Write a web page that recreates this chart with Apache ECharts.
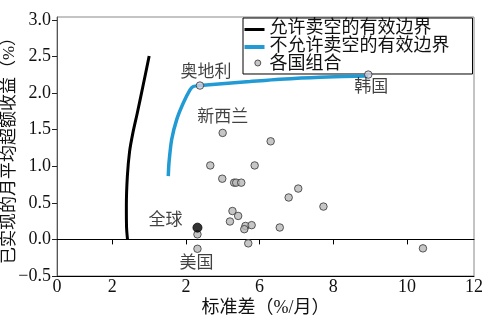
<!DOCTYPE html>
<html>
<head>
<meta charset="utf-8">
<script src="https://cdn.jsdelivr.net/npm/echarts@6/dist/echarts.min.js"></script>
<style>html,body{margin:0;padding:0;background:#fff}#c{width:492px;height:316px}</style>
</head>
<body>
<div id="c"></div>
<script>
// ---- data ----
const shortX = [2.413, 2.388, 2.383, 2.410, 2.470, 2.560, 2.680, 2.830, 3.002];
const shortY = [0.004, 0.170, 0.460, 0.865, 1.200, 1.456, 1.728, 2.086, 2.507];
const noShortX = [3.521, 3.540, 3.613, 3.749, 3.928, 4.110, 4.199, 4.381, 5.738, 6.553, 7.638, 8.95];
const noShortY = [0.865, 1.048, 1.365, 1.637, 1.864, 2.045, 2.090, 2.103, 2.158, 2.190, 2.218, 2.235];
const countryX = [4.381, 8.95, 4.997, 6.30, 4.661, 5.866, 4.986, 5.309, 5.364, 5.502, 7.049, 6.789, 7.733, 5.263, 5.418, 5.195, 5.616, 5.584, 5.784, 6.547, 4.313, 4.313, 5.692, 10.434, 4.313];
const countryY = [2.103, 2.253, 1.456, 1.341, 1.011, 1.011, 0.830, 0.776, 0.776, 0.776, 0.695, 0.573, 0.449, 0.388, 0.321, 0.245, 0.184, 0.140, 0.195, 0.163, 0.069, -0.128, -0.054, -0.122, 0.161];
const countryName = ['奥地利', '韩国', '新西兰', '', '', '', '', '', '', '', '', '', '', '', '', '', '', '', '', '', '', '美国', '', '', '全球'];
const xTickValues = [0.5, 2, 4, 6, 8, 10, 11.82];
const xTickLabels = ['0', '2', '2', '6', '8', '10', '12'];
const yTickValues = [-0.5, 0, 0.5, 1.0, 1.5, 2.0, 2.5, 3.0];
const legendNames = ['允许卖空的有效边界', '不允许卖空的有效边界', '各国组合'];
const axisNames = ['标准差（%/月）', '已实现的月平均超额收益（%）'];

// ---- styles ----
const FONT = "'Liberation Serif', 'Noto Sans CJK SC', serif";
const labelOffsets = {'奥地利': [6, -13], '韩国': [3, 13], '新西兰': [0, -15], '美国': [-1, 15], '全球': [-32, -7]};

const pairs = (xs, ys) => xs.map((x, i) => [x, ys[i]]);

const scatterData = countryX.map((x, i) => {
  const name = countryName[i];
  const item = {value: [x, countryY[i]]};
  if (name === '全球') {
    item.symbolSize = 9;
    item.itemStyle = {color: '#000', borderColor: '#000', borderWidth: 1};
  } else if (name === '奥地利' || name === '韩国') {
    item.itemStyle = {color: '#cfd0de', borderColor: '#333', borderWidth: 1};
  }
  if (name) {
    item.label = {show: true, formatter: name, position: 'inside', offset: labelOffsets[name],
      fontSize: 17, color: '#111', fontFamily: FONT};
  }
  return item;
});

const chart = echarts.init(document.getElementById('c'), null, {renderer: 'canvas'});
chart.setOption({
  animation: false,
  backgroundColor: '#fff',
  grid: {left: 57, right: 18, top: 17, bottom: 40, show: true, borderColor: '#888', borderWidth: 1, outerBoundsMode: 'none', containLabel: false},
  legend: {
    orient: 'vertical', left: 243, top: 18,
    padding: [1, 23, 1, 1], itemGap: 0, itemWidth: 20, itemHeight: 17,
    borderColor: '#000', borderWidth: 1, backgroundColor: '#fff',
    textStyle: {fontSize: 18, lineHeight: 17, color: '#111', fontFamily: FONT},
    selectedMode: false, z: 1,
    data: [
      {name: legendNames[0], icon: 'path://M0,0 M20,17 M0,8.5 h20 v3 h-20 z', itemStyle: {color: '#000', borderWidth: 0}},
      {name: legendNames[1], icon: 'path://M0,0 M20,17 M0,7.5 h20 v4 h-20 z', itemStyle: {color: '#229bd5', borderWidth: 0}},
      {name: legendNames[2], icon: 'path://M0,0 M20,17 M10.3,7.5 a3,3 0 1,0 6,0 a3,3 0 1,0 -6,0 z', itemStyle: {color: '#b8b8b8', borderColor: '#333', borderWidth: 1}}
    ]
  },
  xAxis: [{
    type: 'value', min: 0.5, max: 11.82,
    axisLine: {show: true, onZero: true, lineStyle: {color: '#000', width: 1}},
    axisTick: {show: true, length: 5, customValues: [2, 4, 6, 8, 10], lineStyle: {color: '#000'}},
    axisLabel: {show: false},
    splitLine: {show: false}
  }, {
    type: 'value', min: 0.5, max: 11.82, position: 'bottom',
    name: axisNames[0], nameLocation: 'middle', nameGap: 23, nameMoveOverlap: false,
    nameTextStyle: {fontSize: 18, color: '#111', fontFamily: FONT},
    axisLine: {show: true, onZero: false, lineStyle: {color: '#000', width: 1}},
    axisTick: {show: false},
    axisLabel: {show: true, customValues: xTickValues, margin: 2, fontSize: 18, color: '#111', fontFamily: FONT,
      formatter: v => { const i = xTickValues.findIndex(t => Math.abs(t - v) < 1e-6); return i >= 0 ? xTickLabels[i] : ''; }},
    splitLine: {show: false}
  }],
  yAxis: {
    type: 'value', min: -0.5, max: 3.04, interval: 0.5,
    name: axisNames[1], nameLocation: 'middle', nameGap: 39, nameRotate: 90, nameMoveOverlap: false,
    nameTextStyle: {fontSize: 17, color: '#111', fontFamily: FONT},
    axisLine: {show: true, lineStyle: {color: '#555', width: 1}},
    axisTick: {show: true, length: 5, customValues: yTickValues, lineStyle: {color: '#222'}},
    axisLabel: {show: true, customValues: yTickValues, margin: 6, fontSize: 18, color: '#111', fontFamily: FONT,
      formatter: v => v.toFixed(1).replace('-', '−')},
    splitLine: {show: false}
  },
  series: [{
    name: legendNames[0], type: 'line', data: pairs(shortX, shortY), smooth: 0.3,
    showSymbol: false, symbol: 'none', lineStyle: {color: '#000', width: 3}, itemStyle: {color: '#000'}, z: 2
  }, {
    name: legendNames[1], type: 'line', data: pairs(noShortX, noShortY), smooth: 0.25,
    showSymbol: false, symbol: 'none', lineStyle: {color: '#229bd5', width: 3.5}, itemStyle: {color: '#229bd5'}, z: 2
  }, {
    name: legendNames[2], type: 'scatter', data: scatterData, symbolSize: 7.5,
    itemStyle: {color: '#b8b8b8', borderColor: '#333', borderWidth: 1}, z: 3
  }]
});
</script>
</body>
</html>
